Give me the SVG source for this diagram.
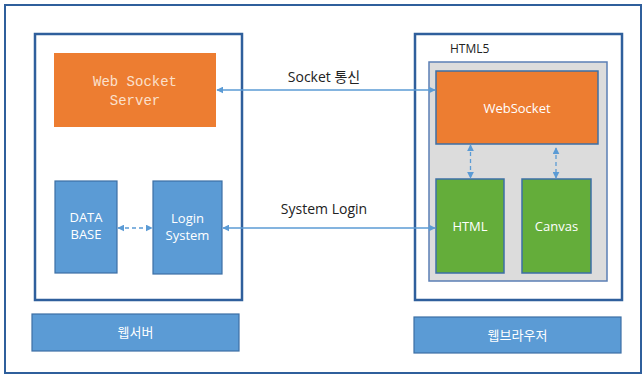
<svg xmlns="http://www.w3.org/2000/svg" width="643" height="376" viewBox="0 0 643 376">
<defs>
<style>
.frame{fill:#ffffff;stroke:#2f5f9c;stroke-width:2}
.cont{fill:#ffffff;stroke:#2f5f9c;stroke-width:2.5}
.orange{fill:#ed7d31}
.blue{fill:#5b9bd5;stroke:#3d6fa5;stroke-width:1.2}
.green{fill:#64ad3a;stroke:#3d6fa5;stroke-width:1.5}
.gray{fill:#dcdcdc;stroke:#5b7fb5;stroke-width:1.5}
.wt{font-family:"Segoe UI","Open Sans","Noto Sans","Noto Sans CJK KR",sans-serif;font-size:13px;fill:#ffffff;text-anchor:middle}
.lbl{font-family:"Segoe UI","Open Sans","Noto Sans","Noto Sans CJK KR",sans-serif;font-size:14px;fill:#222222;text-anchor:middle}
.line{stroke:#5b9bd5;stroke-width:1.3;fill:none}
.dash{stroke:#5b9bd5;stroke-width:1.3;fill:none;stroke-dasharray:4 3}
</style>
<marker id="ah" viewBox="0 0 10 10" refX="9" refY="5" markerWidth="7" markerHeight="7" orient="auto-start-reverse" markerUnits="userSpaceOnUse">
<path d="M0,0 L10,5 L0,10 z" fill="#5b9bd5"/>
</marker>
</defs>
<rect x="0" y="0" width="643" height="376" fill="#ffffff"/>
<rect class="frame" x="5" y="5" width="636" height="368"/>
<g id="server-container">
<rect class="cont" x="35" y="34" width="207" height="266"/>
</g>
<g id="browser-container">
<rect class="cont" x="415" y="34" width="207" height="266"/>
<text x="450" y="53" style="font-family:'Segoe UI','Open Sans','Noto Sans',sans-serif;font-size:12px;fill:#222">HTML5</text>
</g>
<g id="html5-area">
<rect class="gray" x="429" y="62" width="178" height="219"/>
</g>
<g id="websocket-server">
<rect class="orange" x="54" y="53" width="162" height="74"/>
<text x="135" y="86" text-anchor="middle" style="font-family:'Liberation Mono',monospace;font-size:14px;fill:#fbe0cc">Web Socket</text>
<text x="135" y="105" text-anchor="middle" style="font-family:'Liberation Mono',monospace;font-size:14px;fill:#fbe0cc">Server</text>
</g>
<g id="database">
<rect class="blue" x="55" y="181" width="62" height="92"/>
<text class="wt" x="86" y="222">DATA</text>
<text class="wt" x="86" y="239">BASE</text>
</g>
<g id="login-system">
<rect class="blue" x="153" y="181" width="69" height="93"/>
<text class="wt" x="187.5" y="223">Login</text>
<text class="wt" x="187.5" y="240">System</text>
</g>
<g id="websocket">
<rect class="orange" x="436" y="71" width="162" height="73" stroke="#3d6fa5" stroke-width="1.5"/>
<text class="wt" x="517" y="113">WebSocket</text>
</g>
<g id="html">
<rect class="green" x="436" y="179" width="68" height="94"/>
<text class="wt" x="470" y="231">HTML</text>
</g>
<g id="canvas">
<rect class="green" x="522" y="179" width="69" height="94"/>
<text class="wt" x="556.5" y="231">Canvas</text>
</g>
<g id="web-server-label">
<rect class="blue" x="32" y="314" width="207" height="37"/>
<text class="wt" x="135.5" y="337">웹서버</text>
</g>
<g id="web-browser-label">
<rect class="blue" x="414" y="317" width="207" height="36"/>
<text class="wt" x="517.5" y="340">웹브라우저</text>
</g>
<g id="connectors">
<line class="line" x1="217" y1="90" x2="435" y2="90" marker-start="url(#ah)" marker-end="url(#ah)"/>
<text class="lbl" x="324" y="82">Socket 통신</text>
<line class="line" x1="223" y1="228" x2="435" y2="228" marker-start="url(#ah)" marker-end="url(#ah)"/>
<text class="lbl" x="324" y="214">System Login</text>
<line class="dash" x1="118" y1="228" x2="152" y2="228" marker-start="url(#ah)" marker-end="url(#ah)"/>
<line class="dash" x1="470.5" y1="145" x2="470.5" y2="178" marker-start="url(#ah)" marker-end="url(#ah)"/>
<line class="dash" x1="556" y1="148" x2="556" y2="178" marker-start="url(#ah)" marker-end="url(#ah)"/>
</g>
</svg>
